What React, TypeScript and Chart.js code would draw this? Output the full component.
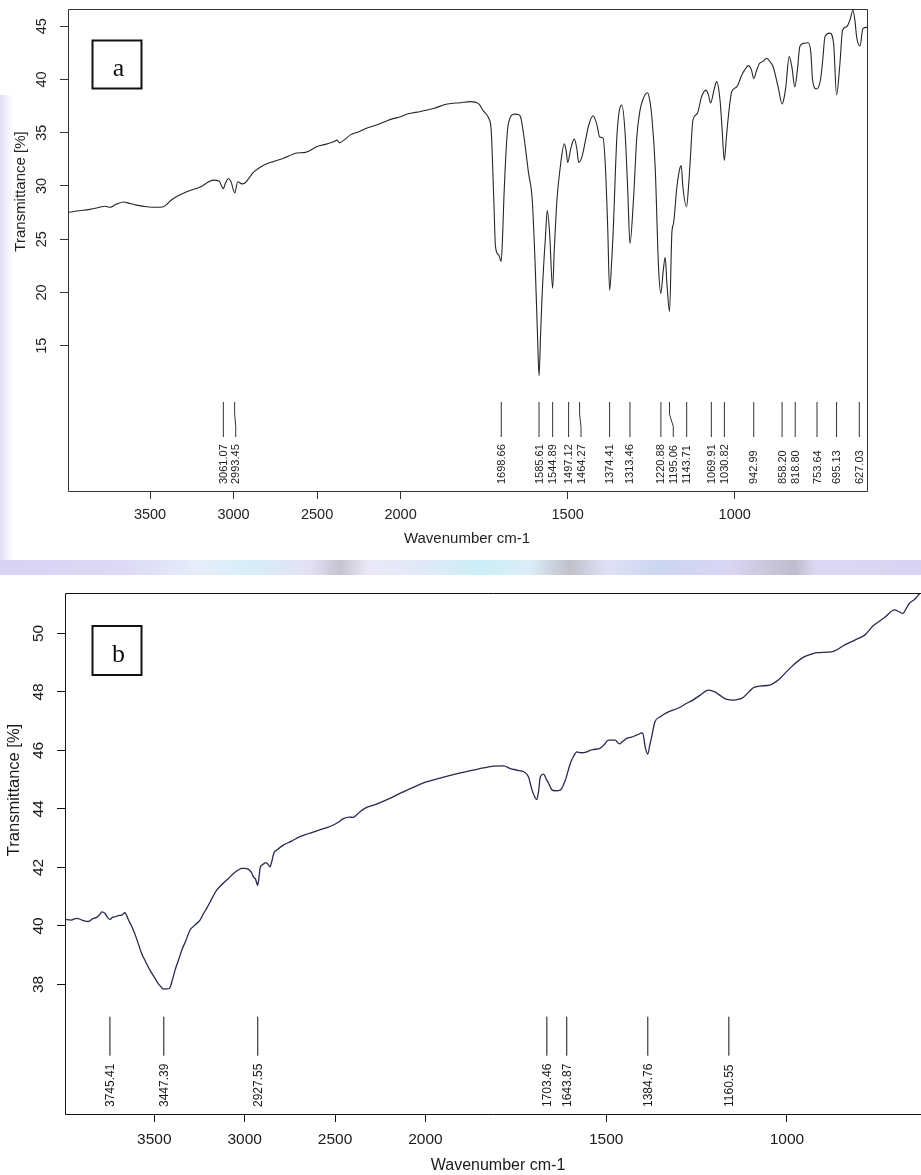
import React, { useEffect, useRef } from "react";
import { Chart, registerables } from "chart.js";

Chart.register(...registerables);

// ---------------- data: panel a ----------------
const waveA = [
  3991, 3940, 3860, 3800, 3770, 3740, 3700, 3660, 3620, 3580, 3520, 3460, 3420, 3405, 3370, 3340, 3280, 3200,
  3120, 3085, 3072, 3061, 3050, 3030, 3015, 2993, 2975, 2950, 2930, 2900, 2880, 2820, 2760, 2700, 2620, 2570,
  2500, 2440, 2400, 2380, 2365, 2340, 2300, 2250, 2200, 2150, 2100, 2050, 2000, 1980, 1940, 1900, 1860, 1821,
  1791, 1775, 1766, 1751, 1740, 1736, 1729, 1721, 1716, 1706, 1699, 1695, 1691, 1681, 1673, 1665, 1656, 1648,
  1641, 1632, 1617, 1606, 1597, 1590, 1585.6, 1581, 1577, 1570, 1567, 1561, 1554, 1545, 1540, 1532, 1522, 1510,
  1504, 1500, 1490, 1480, 1472, 1467, 1457, 1447, 1437, 1424, 1418, 1412, 1404, 1394, 1387, 1380, 1374.4, 1368,
  1364, 1352, 1338, 1328, 1320, 1313.5, 1303, 1293, 1284, 1275, 1261, 1254, 1248, 1238, 1228, 1221, 1214, 1208,
  1203, 1195, 1188, 1183, 1173, 1163, 1160, 1155, 1144, 1138, 1133, 1125, 1112, 1099, 1086, 1079, 1072, 1062,
  1054, 1044, 1038, 1031, 1025, 1019, 1009, 994, 979, 970, 959, 950, 943, 935, 926, 915, 904, 895, 885, 870,
  858, 852, 847, 837, 829, 820, 812, 805, 793, 780, 772, 767, 755, 743, 736, 730, 715, 704, 695, 685, 677, 665,
  655, 646, 640, 635, 625, 616, 604,
];
const transA = [
  27.5, 27.65, 27.8, 28.0, 28.1, 28.0, 28.3, 28.5, 28.35, 28.2, 28.05, 28.0, 28.05, 28.2, 28.7, 29.0, 29.45, 29.9,
  30.55, 30.45, 30.0, 29.75, 30.2, 30.7, 30.4, 29.35, 30.4, 30.2, 30.3, 30.9, 31.3, 31.95, 32.3, 32.6, 33.1, 33.15,
  33.7, 33.95, 34.15, 34.3, 34.05, 34.3, 34.8, 35.1, 35.45, 35.7, 36.0, 36.3, 36.5, 36.75, 37.0, 37.3, 37.7, 37.82,
  37.92, 37.85, 37.7, 37.0, 36.6, 36.35, 35.3, 28.7, 24.3, 23.5, 22.9, 25.0, 28.7, 34.9, 36.35, 36.7, 36.75, 36.7,
  36.5, 34.9, 31.2, 28.7, 22.4, 15.8, 12.15, 16.0, 19.3, 23.5, 24.9, 27.7, 25.6, 20.4, 24.0, 28.7, 31.8, 33.95,
  33.2, 32.2, 33.6, 34.4, 33.4, 32.2, 32.75, 34.2, 35.7, 36.6, 36.3, 35.7, 34.6, 34.5, 31.8, 26.0, 20.2, 23.0,
  25.5, 34.95, 37.6, 34.95, 29.5, 24.6, 28.7, 34.6, 37.0, 38.1, 38.75, 38.0, 36.5, 31.8, 22.4, 19.9, 22.0, 23.3,
  20.9, 18.2, 25.6, 26.5, 29.9, 31.8, 31.9, 29.9, 28.05, 30.0, 32.4, 36.2, 36.8, 38.4, 39.0, 38.6, 37.8, 39.0,
  39.8, 38.1, 35.5, 32.4, 34.5, 36.5, 38.85, 39.3, 40.4, 40.9, 41.3, 40.9, 40.1, 40.8, 41.5, 41.7, 42.0, 41.7, 41.2, 39.3,
  37.7, 38.3, 39.3, 42.15, 41.2, 39.3, 41.0, 43.1, 43.4, 43.45, 42.5, 40.0, 39.1, 40.0, 42.0, 44.0, 44.35, 43.4, 38.55, 41.5, 44.65, 44.95,
  45.6, 46.5, 45.5, 44.0, 43.15, 44.8, 44.9,
];
const peaksA = [
  3061.07, 2993.45, 1698.66, 1585.61, 1544.89, 1497.12, 1464.27, 1374.41, 1313.46, 1220.88, 1195.06, 1143.71,
  1069.91, 1030.82, 942.99, 858.2, 818.8, 753.64, 695.13, 627.03,
];
const yTicksA = [15, 20, 25, 30, 35, 40, 45];

// ---------------- data: panel b ----------------
const waveB = [
  3994, 3960, 3929, 3900, 3865, 3840, 3819, 3800, 3791, 3773, 3760, 3745, 3730, 3717, 3700, 3680, 3662, 3652, 3644,
  3630, 3616, 3600, 3570, 3550, 3524, 3500, 3478, 3460, 3450, 3430, 3417, 3400, 3385, 3365, 3348, 3325, 3302, 3280,
  3247, 3230, 3210, 3180, 3155, 3120, 3090, 3060, 3035, 3015, 2998, 2985, 2974, 2960, 2952, 2940, 2928, 2920, 2915,
  2900, 2882, 2870, 2860, 2850, 2838, 2820, 2786, 2740, 2694, 2650, 2601, 2550, 2509, 2480, 2454, 2420, 2399, 2380,
  2362, 2325, 2300, 2260, 2200, 2141, 2080, 2011, 1960, 1903, 1866, 1840, 1811, 1784, 1765, 1745, 1728, 1715, 1705,
  1697, 1692, 1687, 1682, 1673, 1665, 1659, 1650, 1641, 1627, 1613, 1599, 1590, 1581, 1570, 1553, 1545, 1535, 1517,
  1505, 1494, 1475, 1463, 1455, 1443, 1430, 1416, 1399, 1392, 1385, 1379, 1374, 1365, 1350, 1332, 1300, 1277, 1260,
  1240, 1217, 1199, 1185, 1166, 1148, 1135, 1121, 1105, 1093, 1075, 1047, 1030, 1019, 1000, 982, 955, 935, 918, 877,
  860, 845, 812, 785, 762, 729, 702, 690, 679, 670, 661, 647, 632,
];
const transB = [
  40.22, 40.2, 40.26, 40.2, 40.15, 40.25, 40.29, 40.4, 40.48, 40.43, 40.3, 40.22, 40.3, 40.31, 40.35, 40.37, 40.45,
  40.35, 40.22, 40.05, 39.86, 39.6, 39.06, 38.8, 38.49, 38.25, 38.03, 37.9, 37.84, 37.85, 37.86, 38.15, 38.49, 38.85,
  39.17, 39.5, 39.86, 40.0, 40.2, 40.4, 40.6, 40.95, 41.22, 41.45, 41.62, 41.8, 41.91, 41.97, 41.97, 41.95, 41.91,
  41.8, 41.68, 41.6, 41.39, 41.7, 41.97, 42.1, 42.16, 42.1, 42.02, 42.2, 42.5, 42.6, 42.76, 42.9, 43.05, 43.15, 43.25,
  43.35, 43.45, 43.55, 43.67, 43.72, 43.71, 43.8, 43.9, 44.05, 44.1, 44.19, 44.35, 44.53, 44.7, 44.89, 45.05, 45.23,
  45.33, 45.4, 45.46, 45.47, 45.38, 45.32, 45.27, 45.1, 44.64, 44.4, 44.32, 44.6, 45.1, 45.19, 45.0, 44.87, 44.65,
  44.62, 44.64, 44.98, 45.56, 45.8, 45.95, 45.92, 45.95, 46.0, 46.03, 46.07, 46.2, 46.35, 46.35, 46.22, 46.3, 46.41,
  46.45, 46.52, 46.6, 46.12, 45.87, 46.2, 46.47, 46.98, 47.15, 47.29, 47.45, 47.61, 47.72, 47.89, 48.06, 48.0, 47.88,
  47.74, 47.72, 47.74, 47.81, 48.0, 48.14, 48.2, 48.23, 48.35, 48.46, 48.7, 48.92, 49.18, 49.28, 49.34, 49.37, 49.45,
  49.57, 49.77, 49.94, 50.25, 50.55, 50.8, 50.74, 50.68, 50.85, 51.03, 51.16, 51.37,
];
const peaksB = [3745.41, 3447.39, 2927.55, 1703.46, 1643.87, 1384.76, 1160.55];
// where the marker of each label sits on the axis
const peakMarksB = [3745.41, 3447.39, 2927.55, 1664, 1609, 1384.76, 1160.55];
const yTicksB = [38, 40, 42, 44, 46, 48, 50];

const xTicks = [3500, 3000, 2500, 2000, 1500, 1000];

// the instrument's axis doubles its scale below 2000 cm-1
const fold = (w: number) => (w >= 2000 ? w : 2 * w - 2000);
const unfold = (t: number) => (t >= 2000 ? t : (t + 2000) / 2);

const W = 921;
const SANS = '"Liberation Sans", Arial, sans-serif';
const SERIF = '"Liberation Serif", "Times New Roman", serif';

type Cfg = {
  top: number;
  height: number;
  area: { left: number; top: number; right: number; bottom: number };
  xMin: number;
  xMax: number;
  yMin: number;
  yMax: number;
  wave: number[];
  trans: number[];
  yTicks: number[];
  peaks: number[];
  marks: number[];
  lineColor: string;
  lineWidth: number;
  frameColor: string;
  textColor: string;
  closedRight: boolean;
  tickFont: number;
  titleFontY: number;
  titleFontX: number;
  peakFont: number;
  yLabelX: number;
  xLabelY: number;
  yTitle: [number, number];
  xTitle: [number, number];
  peakLineTop: number;
  peakLineBottom: number;
  peakTextBottom: number;
  minGap: number;
  letter: string;
  box: { x: number; y: number; w: number; h: number; baseline: number };
};

const cfgA: Cfg = {
  top: 0,
  height: 560,
  area: { left: 68, top: 9, right: 868, bottom: 491 },
  xMin: 601,
  xMax: 3991,
  yMin: 1.35,
  yMax: 46.62,
  wave: waveA,
  trans: transA,
  yTicks: yTicksA,
  peaks: peaksA,
  marks: peaksA,
  lineColor: "#262626",
  lineWidth: 1.1,
  frameColor: "#333",
  textColor: "#222",
  closedRight: true,
  tickFont: 14.5,
  titleFontY: 15,
  titleFontX: 15,
  peakFont: 11,
  yLabelX: 41.7,
  xLabelY: 514.5,
  yTitle: [20.8, 191.5],
  xTitle: [467, 539],
  peakLineTop: 402,
  peakLineBottom: 437,
  peakTextBottom: 484,
  minGap: 12.4,
  letter: "a",
  box: { x: 92.5, y: 40.5, w: 49, h: 48, baseline: 76 },
};

const cfgB: Cfg = {
  top: 575,
  height: 600,
  area: { left: 65, top: 18.3, right: 921, bottom: 539 },
  xMin: 629,
  xMax: 3994,
  yMin: 33.57,
  yMax: 51.37,
  wave: waveB,
  trans: transB,
  yTicks: yTicksB,
  peaks: peaksB,
  marks: peakMarksB,
  lineColor: "#262a4e",
  lineWidth: 1.3,
  frameColor: "#111",
  textColor: "#1a1a1a",
  closedRight: false,
  tickFont: 15.5,
  titleFontY: 16.5,
  titleFontX: 16,
  peakFont: 12,
  yLabelX: 39,
  xLabelY: 564.5,
  yTitle: [14.2, 215],
  xTitle: [498, 591],
  peakLineTop: 441.7,
  peakLineBottom: 480.7,
  peakTextBottom: 532,
  minGap: 12.4,
  letter: "b",
  box: { x: 92.5, y: 51, w: 49, h: 49, baseline: 86.7 },
};

function decorPlugin(cfg: Cfg) {
  return {
    id: "decor" + cfg.letter,
    afterDraw(chart: any) {
      const { ctx, chartArea: a, scales } = chart;
      const xs = scales.x;
      const ys = scales.y;
      ctx.save();

      // frame
      ctx.strokeStyle = cfg.frameColor;
      ctx.lineWidth = 1;
      ctx.beginPath();
      const L = Math.round(a.left) + 0.5;
      const T = Math.round(a.top) + 0.5;
      const B = Math.round(a.bottom) + 0.5;
      const R = Math.round(a.right) - 0.5;
      if (cfg.closedRight) {
        ctx.rect(L, T, R - L, B - T);
      } else {
        ctx.moveTo(W + 2, T);
        ctx.lineTo(L, T);
        ctx.lineTo(L, B);
        ctx.lineTo(W + 2, B);
      }
      ctx.stroke();

      ctx.fillStyle = cfg.textColor;

      // y tick labels (rotated, R style)
      ctx.font = `${cfg.tickFont}px ${SANS}`;
      ctx.textAlign = "center";
      ctx.textBaseline = "middle";
      for (const t of ys.ticks) {
        const y = ys.getPixelForValue(t.value);
        ctx.save();
        ctx.translate(cfg.yLabelX, y);
        ctx.rotate(-Math.PI / 2);
        ctx.fillText(String(t.value), 0, 0);
        ctx.restore();
      }

      // x tick labels
      for (const t of xs.ticks) {
        const x = xs.getPixelForValue(t.value);
        ctx.fillText(String(Math.round(unfold(t.value))), x, cfg.xLabelY);
      }

      // axis titles
      ctx.font = `${cfg.titleFontX}px ${SANS}`;
      ctx.fillText("Wavenumber cm-1", cfg.xTitle[0], cfg.xTitle[1]);
      ctx.font = `${cfg.titleFontY}px ${SANS}`;
      ctx.save();
      ctx.translate(cfg.yTitle[0], cfg.yTitle[1]);
      ctx.rotate(-Math.PI / 2);
      ctx.fillText("Transmittance [%]", 0, 0);
      ctx.restore();

      // peak markers and labels
      const items = cfg.peaks.map((p, i) => ({
        label: p.toFixed(2),
        x: xs.getPixelForValue(fold(cfg.marks[i])),
      }));
      items.sort((m, n) => m.x - n.x);
      let prev = -1e9;
      const placed = items.map((it) => {
        const lx = Math.max(it.x, prev + cfg.minGap);
        prev = lx;
        return { ...it, lx };
      });
      const h = cfg.peakLineBottom - cfg.peakLineTop;
      ctx.strokeStyle = cfg.frameColor;
      ctx.lineWidth = 1;
      for (const it of placed) {
        ctx.beginPath();
        ctx.moveTo(it.x, cfg.peakLineTop);
        if (Math.abs(it.lx - it.x) > 0.3) {
          ctx.lineTo(it.x, cfg.peakLineTop + h * 0.35);
          ctx.lineTo(it.lx, cfg.peakLineTop + h * 0.7);
        }
        ctx.lineTo(it.lx, cfg.peakLineBottom);
        ctx.stroke();
      }
      ctx.font = `${cfg.peakFont}px ${SANS}`;
      ctx.textAlign = "left";
      ctx.textBaseline = "middle";
      for (const it of placed) {
        ctx.save();
        ctx.translate(it.lx, cfg.peakTextBottom);
        ctx.rotate(-Math.PI / 2);
        ctx.fillText(it.label, 0, 0.5);
        ctx.restore();
      }

      // panel letter box
      const bx = cfg.box;
      ctx.fillStyle = "#fff";
      ctx.fillRect(bx.x, bx.y, bx.w, bx.h);
      ctx.strokeStyle = "#111";
      ctx.lineWidth = 2;
      ctx.strokeRect(bx.x, bx.y, bx.w, bx.h);
      ctx.fillStyle = "#111";
      ctx.font = `26px ${SERIF}`;
      ctx.textAlign = "center";
      ctx.textBaseline = "alphabetic";
      ctx.fillText(cfg.letter, bx.x + bx.w / 2 + 1.5, bx.baseline);

      ctx.restore();
    },
  };
}

function Panel({ cfg }: { cfg: Cfg }) {
  const ref = useRef<HTMLCanvasElement>(null);
  useEffect(() => {
    const canvas = ref.current;
    if (!canvas) return;
    const gridOpts = {
      display: true,
      drawOnChartArea: false,
      drawTicks: true,
      tickLength: 8,
      color: cfg.frameColor,
      lineWidth: 1,
    };
    const chart = new Chart(canvas, {
      type: "line",
      data: {
        datasets: [
          {
            data: cfg.wave.map((w, i) => ({ x: fold(w), y: cfg.trans[i] })),
            borderColor: cfg.lineColor,
            borderWidth: cfg.lineWidth,
            pointRadius: 0,
            fill: false,
            cubicInterpolationMode: "monotone",
          },
        ],
      },
      options: {
        animation: false,
        responsive: false,
        maintainAspectRatio: false,
        events: [],
        layout: {
          padding: { left: 0, top: cfg.area.top, right: W - cfg.area.right, bottom: 0 },
        },
        plugins: { legend: { display: false }, tooltip: { enabled: false }, title: { display: false } },
        scales: {
          x: {
            type: "linear",
            reverse: true,
            min: fold(cfg.xMin),
            max: fold(cfg.xMax),
            afterBuildTicks: (s: any) => {
              s.ticks = xTicks.map((v) => ({ value: fold(v) }));
            },
            afterFit: (s: any) => {
              s.height = cfg.height - cfg.area.bottom;
            },
            grid: gridOpts,
            border: { display: false },
            ticks: { display: false },
          },
          y: {
            type: "linear",
            min: cfg.yMin,
            max: cfg.yMax,
            afterBuildTicks: (s: any) => {
              s.ticks = cfg.yTicks.map((v) => ({ value: v }));
            },
            afterFit: (s: any) => {
              s.width = cfg.area.left;
            },
            grid: gridOpts,
            border: { display: false },
            ticks: { display: false },
          },
        },
      } as any,
      plugins: [decorPlugin(cfg)],
    });
    return () => chart.destroy();
  }, [cfg]);
  return (
    <canvas
      ref={ref}
      width={W}
      height={cfg.height}
      style={{ position: "absolute", left: 0, top: cfg.top, width: W, height: cfg.height, display: "block" }}
    />
  );
}

export default function App() {
  return (
    <div
      style={{
        position: "absolute",
        left: 0,
        top: 0,
        width: W,
        height: 1175,
        background: "#fff",
        overflow: "hidden",
      }}
    >
      <div
        style={{
          position: "absolute",
          left: 0,
          top: 95,
          width: 14,
          height: 465,
          background:
            "linear-gradient(90deg, rgba(218,213,245,0.85) 0%, rgba(234,231,250,0.6) 50%, rgba(255,255,255,0) 100%)",
        }}
      />
      <div
        style={{
          position: "absolute",
          left: 0,
          top: 560,
          width: W,
          height: 15,
          background:
            "linear-gradient(90deg, #d8d3f3 0px, #dcd8f6 120px, #e6eefa 200px, #d6eef8 250px, #e4e1f7 310px, #c4c3cf 340px, #ebe9f7 368px, #e2e8f8 420px, #cbeff8 480px, #dbedf7 530px, #c0c0cb 570px, #dfe0f5 605px, #ccd6f1 660px, #d9d5f4 730px, #bebccc 795px, #dcd8f4 815px, #d8d3f3 921px)",
        }}
      />
      <Panel cfg={cfgA} />
      <Panel cfg={cfgB} />
    </div>
  );
}
